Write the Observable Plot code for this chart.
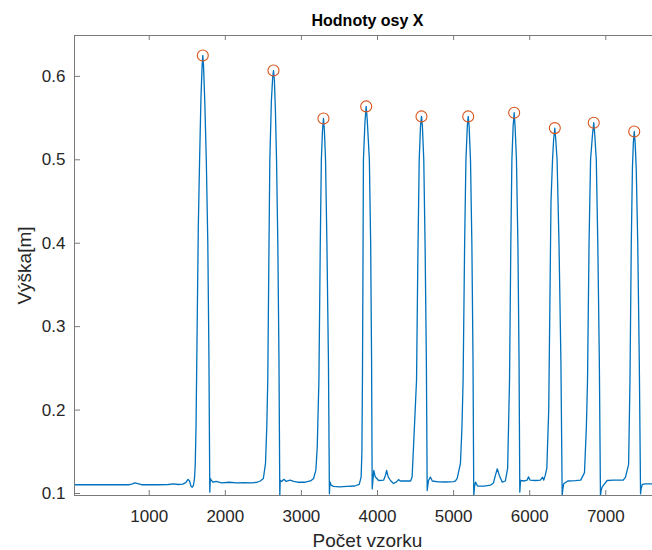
<!DOCTYPE html>
<html><head><meta charset="utf-8">
<script src="https://cdn.jsdelivr.net/npm/d3@7"></script>
<script src="https://cdn.jsdelivr.net/npm/@observablehq/plot@0.6"></script>
<style>html,body{margin:0;padding:0;background:#fff;overflow:hidden}svg{overflow:hidden}</style>
</head><body><div id="chart"></div>
<script>
// [sample index, height in m]
const signal = [
  [18,0.1105],[500,0.1105],[740,0.1105],[780,0.1115],[810,0.1128],[850,0.1118],[900,0.1105],[1100,0.1105],[1250,0.1108],[1320,0.1115],[1380,0.1108],[1440,0.1112],[1480,0.113],[1510,0.117],[1530,0.115],[1550,0.1085],[1565,0.1075],[1580,0.1095],
  [1595,0.118],[1605,0.135],[1615,0.18],[1630,0.30],[1645,0.42],[1662,0.5],[1680,0.575],[1695,0.612],[1704,0.625],[1714,0.612],[1730,0.57],[1750,0.5],[1770,0.40],[1785,0.26],[1796,0.1016],
  [1803,0.118],[1815,0.116],[1840,0.1135],[1880,0.1145],[1950,0.1128],[2050,0.1135],[2150,0.1128],[2250,0.113],[2350,0.1128],[2420,0.1135],[2460,0.115],
  [2500,0.118],[2528,0.136],[2545,0.18],[2558,0.236],[2572,0.38],[2585,0.5],[2605,0.57],[2622,0.598],[2633,0.607],[2645,0.595],[2658,0.56],[2673,0.5],[2690,0.40],[2705,0.26],[2716,0.0976],
  [2722,0.116],[2740,0.1145],[2770,0.117],[2800,0.1145],[2850,0.116],[2900,0.1145],[2950,0.1135],[3050,0.1135],[3120,0.115],
  [3160,0.118],[3190,0.128],[3208,0.1556],[3230,0.236],[3248,0.40],[3262,0.5],[3277,0.535],[3290,0.5495],[3302,0.535],[3317,0.5],[3335,0.40],[3355,0.26],[3368,0.0996],
  [3375,0.114],[3390,0.11],[3420,0.1085],[3500,0.108],[3600,0.1085],[3700,0.109],[3760,0.111],
  [3785,0.12],[3795,0.15],[3802,0.236],[3808,0.35],[3815,0.5],[3835,0.545],[3851,0.564],[3865,0.548],[3893,0.5],[3910,0.40],[3922,0.26],[3930,0.1056],
  [3940,0.116],[3951,0.1276],[3970,0.12],[4015,0.1156],[4080,0.116],[4105,0.122],[4120,0.1276],[4140,0.12],[4170,0.1156],[4210,0.112],[4250,0.114],[4276,0.1166],[4300,0.115],[4380,0.115],[4435,0.115],
  [4455,0.12],[4473,0.1556],[4513,0.236],[4530,0.38],[4548,0.5],[4565,0.54],[4578,0.552],[4590,0.54],[4608,0.5],[4625,0.40],[4642,0.26],[4653,0.1036],
  [4670,0.1156],[4695,0.1196],[4720,0.115],[4800,0.114],[4900,0.1138],[5000,0.1142],[5025,0.115],
  [5047,0.118],[5090,0.136],[5110,0.18],[5125,0.236],[5145,0.40],[5162,0.5],[5180,0.54],[5192,0.552],[5204,0.54],[5222,0.5],[5240,0.40],[5255,0.26],[5265,0.0976],
  [5275,0.108],[5288,0.1136],[5315,0.109],[5400,0.1088],[5485,0.110],[5525,0.113],[5550,0.122],[5574,0.1296],[5600,0.122],[5640,0.1136],[5680,0.115],
  [5710,0.13],[5735,0.236],[5752,0.40],[5766,0.5],[5782,0.54],[5796,0.5564],[5808,0.54],[5826,0.5],[5845,0.40],[5860,0.26],[5870,0.1016],
  [5880,0.1156],[5930,0.115],[5965,0.116],[5985,0.12],[6005,0.116],[6080,0.1156],[6140,0.116],[6170,0.1196],[6185,0.116],
  [6205,0.122],[6225,0.13],[6250,0.20],[6262,0.30],[6280,0.45],[6300,0.5],[6315,0.525],[6330,0.538],[6342,0.525],[6360,0.5],[6385,0.40],[6410,0.26],[6427,0.0976],
  [6435,0.105],[6447,0.1116],[6500,0.115],[6600,0.1155],[6670,0.116],[6690,0.1196],
  [6720,0.125],[6745,0.18],[6760,0.236],[6780,0.40],[6800,0.5],[6825,0.53],[6842,0.5444],[6855,0.53],[6875,0.5],[6895,0.40],[6915,0.26],[6930,0.0976],
  [6940,0.104],[6953,0.108],[7018,0.1156],[7100,0.116],[7230,0.116],[7259,0.1196],
  [7300,0.135],[7318,0.236],[7335,0.40],[7350,0.49],[7362,0.52],[7374,0.534],[7386,0.52],[7400,0.49],[7420,0.40],[7440,0.26],[7457,0.0996],
  [7465,0.106],[7480,0.111],[7520,0.1116],[7719,0.1116]
];
const peakSample = [1704, 2633, 3290, 3851, 4578, 5192, 5796, 6330, 6842, 7374];
const peakHeight = [0.625, 0.607, 0.5495, 0.564, 0.552, 0.552, 0.5564, 0.538, 0.5444, 0.534];
const xTicks = [1000, 2000, 3000, 4000, 5000, 6000, 7000];
const yTicks = [0.1, 0.2, 0.3, 0.4, 0.5, 0.6];
const xDomain = [18, 7719];
const yDomain = [0.0976, 0.649];
const titleText = "Hodnoty osy X";
const xLabel = "Počet vzorku";
const yLabel = "Výška[m]";

const lineData = signal.map(([s, h]) => ({s, h}));
const peaks = peakSample.map((s, i) => ({s, h: peakHeight[i]}));

const W = 652, H = 550, mL = 74, mR = -8, mT = 35, mB = 55;
const plotW = W - mL - mR, plotH = H - mT - mB;
const axisColor = "#7a7a7a";
const textColor = "#262626";

const chart = Plot.plot({
  width: W, height: H,
  marginLeft: mL, marginRight: mR, marginTop: mT, marginBottom: mB,
  style: {fontFamily: "'Liberation Sans', Arial, Helvetica, sans-serif", fontSize: "17px", color: textColor, background: "#fff", overflow: "hidden"},
  x: {domain: xDomain, axis: null},
  y: {domain: yDomain, axis: null},
  marks: [
    Plot.lineY(lineData, {x: "s", y: "h", stroke: "#0072BD", strokeWidth: 1.3, clip: true}),
    Plot.dot(peaks, {x: "s", y: "h", r: 5.5, stroke: "#D95319", strokeWidth: 1.1, fill: "none"}),
    Plot.frame({stroke: axisColor, strokeWidth: 1}),
    Plot.ruleX(xTicks, {x: d => d, stroke: axisColor, insetTop: plotH - 5}),
    Plot.ruleX(xTicks, {x: d => d, stroke: axisColor, insetBottom: plotH - 5}),
    Plot.ruleY(yTicks, {y: d => d, stroke: axisColor, insetRight: plotW - 6}),
    Plot.axisX({ticks: xTicks, tickSize: 0, tickPadding: 14, label: null, tickFormat: d3.format("d"), fontSize: 17, fill: textColor}),
    Plot.axisY({ticks: yTicks, tickSize: 0, tickPadding: 9, label: null, tickFormat: d3.format(".1f"), fontSize: 17, fill: textColor}),
    Plot.text([titleText], {frameAnchor: "top", dy: -21, lineAnchor: "top", textAnchor: "middle", fontWeight: "bold", fontSize: 16, fill: "#000"}),
    Plot.text([xLabel], {frameAnchor: "bottom", dy: 51, lineAnchor: "bottom", textAnchor: "middle", fontSize: 19, fill: textColor}),
    Plot.text([yLabel], {frameAnchor: "left", dx: -50, rotate: -90, textAnchor: "middle", lineAnchor: "middle", fontSize: 19, fill: textColor})
  ]
});
document.getElementById("chart").appendChild(chart);
</script>
</body></html>
